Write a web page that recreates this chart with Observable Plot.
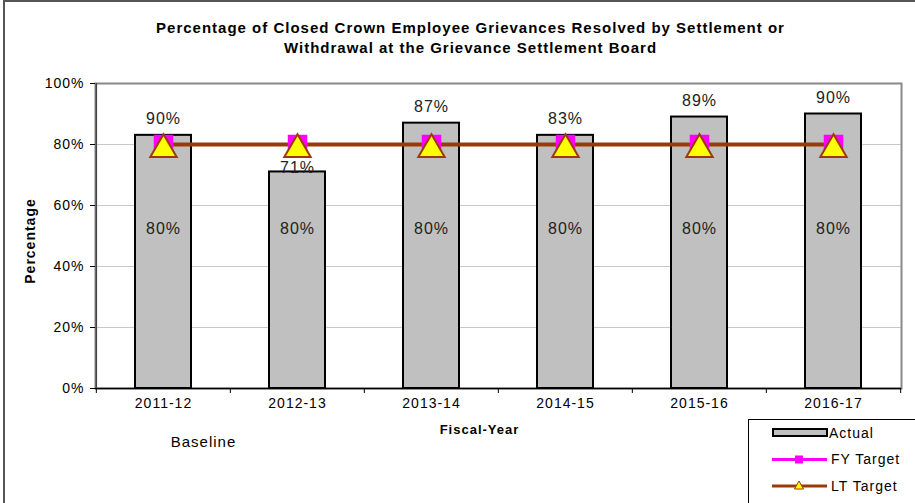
<!DOCTYPE html>
<html>
<head>
<meta charset="utf-8">
<script src="https://cdn.jsdelivr.net/npm/d3@7"></script>
<script src="https://cdn.jsdelivr.net/npm/@observablehq/plot@0.6"></script>
<style>
  html, body { margin: 0; padding: 0; background: #fff; overflow: hidden; }
  #wrap { position: relative; width: 915px; height: 503px; font-family: "Liberation Sans", Arial, sans-serif; }
  #outer { position: absolute; left: 3px; top: 0px; width: 930px; height: 520px; border: 2px solid #555; box-sizing: border-box; pointer-events: none; }
  #chart svg text { letter-spacing: 1px; }
  #chart svg text.title { letter-spacing: 1.4px; }
  #chart svg text.fy { letter-spacing: 0.5px; }
  #chart svg text.base { letter-spacing: 1.5px; }
  #legend { position: absolute; left: 748px; top: 419px; width: 180px; height: 100px; border: 1px solid #000; background: #fff; font-size: 14px; letter-spacing: 1px; }
  #legend svg { position: absolute; left: 0; top: 0; }
</style>
</head>
<body>
<div id="wrap">
  <div id="chart"></div>
  <div id="legend"></div>
  <div id="outer"></div>
</div>
<script>
const years = ["2011-12", "2012-13", "2013-14", "2014-15", "2015-16", "2016-17"];
const actual = [83, 71, 87, 83, 89, 90];
const actualLabels = ["90%", "71%", "87%", "83%", "89%", "90%"];
const fyTarget = [80, 80, 80, 80, 80, 80];
const ltTarget = [80, 80, 80, 80, 80, 80];
const yTicks = [0, 20, 40, 60, 80, 100];

const titleText = "Percentage of Closed Crown Employee Grievances Resolved by Settlement or\nWithdrawal at the Grievance Settlement Board";

const data = years.map((y, i) => ({year: y, actual: actual[i], label: actualLabels[i], fy: fyTarget[i], lt: ltTarget[i]}));

const W = 915, H = 503, mL = 95, mR = 14, mT = 83, mB = 115;
const step = (W - mL - mR) / years.length;
const pxPerUnit = (H - mT - mB) / 100;
const brown = "#9c3a06";

const chart = Plot.plot({
  width: W,
  height: H,
  marginLeft: mL,
  marginRight: mR,
  marginTop: mT,
  marginBottom: mB,
  style: {fontFamily: "'Liberation Sans', Arial, sans-serif", color: "#000", background: "transparent"},
  x: {domain: years, paddingInner: 0.583, paddingOuter: 0.2915, align: 0.5, label: null},
  y: {domain: [0, 100], label: null},
  marks: [
    Plot.gridY([20, 40, 60, 80], {stroke: "#c8c8c8", strokeOpacity: 1}),
    Plot.frame({stroke: "#888", strokeWidth: 2}),
    Plot.barY(data, {x: "year", y: "actual", fill: "#c0c0c0", stroke: "#000", strokeWidth: 2}),
    Plot.text(data.filter(d => d.actual >= d.fy), {x: "year", y: "actual", text: "label", dy: -16, fontSize: 16, fill: "#222"}),
    Plot.text(data.filter(d => d.actual < d.fy), {x: "year", y: "actual", text: "label", dy: -4, fontSize: 16, fill: "#222"}),
    Plot.text(data, {x: "year", y: "fy", text: d => d.fy + "%", dy: 84, fontSize: 16, fill: "#222"}),
    Plot.line(data, {x: "year", y: "lt", stroke: brown, strokeWidth: 4}),
    Plot.dot(data, {x: "year", y: "fy", symbol: "square", r: 11, fill: "#ff00ff", stroke: "none"}),
    Plot.dot(data, {x: "year", y: "lt", symbol: "triangle", r: 9.8, dy: 5, fill: "#ffff00", stroke: brown, strokeWidth: 2}),
    // axis lines
    Plot.ruleY([0], {stroke: "#000", strokeWidth: 1.5}),
    Plot.ruleX([years[0]], {x: d => d, dx: -step / 2, y1: 0, y2: 100, stroke: "#444", strokeWidth: 1.5}),
    // category boundary ticks
    Plot.ruleX(years, {x: d => d, dx: -step / 2, y1: 0, y2: -5 / pxPerUnit, stroke: "#000"}),
    Plot.ruleX([years[years.length - 1]], {x: d => d, dx: step / 2, y1: 0, y2: -5 / pxPerUnit, stroke: "#000"}),
    Plot.axisY(yTicks, {tickSize: 5, tickPadding: 6, fontSize: 14, tickFormat: d => d + "%", label: null, stroke: "#000"}),
    Plot.axisX({tickSize: 0, tickPadding: 10, fontSize: 14, label: null}),
    // titles
    Plot.text([titleText], {frameAnchor: "top", dx: -28, dy: -65, lineAnchor: "top", lineHeight: 1.35, fontSize: 15, fontWeight: "bold", text: d => d, className: "title"}),
    Plot.text(["Percentage"], {frameAnchor: "left", textAnchor: "middle", dx: -65, dy: 5, rotate: -90, fontSize: 14, fontWeight: "bold", text: d => d}),
    Plot.text(["Fiscal-Year"], {frameAnchor: "bottom", dx: -19, dy: 45, fontSize: 13, fontWeight: "bold", text: d => d, className: "fy"}),
    Plot.text(["Baseline"], {x: () => years[0], frameAnchor: "bottom", dx: 40, dy: 58, fontSize: 15, text: d => d, className: "base"})
  ]
});
document.getElementById("chart").appendChild(chart);

// legend
const legendItems = [
  {name: "Actual", kind: "bar"},
  {name: "FY Target", kind: "fy"},
  {name: "LT Target", kind: "lt"}
];
const lg = d3.select("#legend").append("svg").attr("width", 180).attr("height", 100);
legendItems.forEach((it, i) => {
  const cy = 13 + i * 26.5;
  const g = lg.append("g").attr("transform", `translate(0,${cy})`);
  if (it.kind === "bar") {
    g.append("rect").attr("x", 24).attr("y", -4).attr("width", 54).attr("height", 7).attr("fill", "#c0c0c0").attr("stroke", "#000").attr("stroke-width", 2);
  } else if (it.kind === "fy") {
    g.append("line").attr("x1", 23).attr("x2", 78).attr("y1", 0).attr("y2", 0).attr("stroke", "#ff00ff").attr("stroke-width", 3);
    g.append("rect").attr("x", 46).attr("y", -4).attr("width", 8).attr("height", 8).attr("fill", "#ff00ff");
  } else {
    g.append("line").attr("x1", 23).attr("x2", 78).attr("y1", 0).attr("y2", 0).attr("stroke", brown).attr("stroke-width", 3);
    g.append("path").attr("d", "M50,-5 L54.5,3 L45.5,3 Z").attr("fill", "#ffff00").attr("stroke", brown).attr("stroke-width", 1);
  }
  g.append("text").attr("x", it.kind === "bar" ? 80 : 82).attr("y", 0).attr("dy", "0.35em").attr("fill", "#000").text(it.name);
});
</script>
</body>
</html>
